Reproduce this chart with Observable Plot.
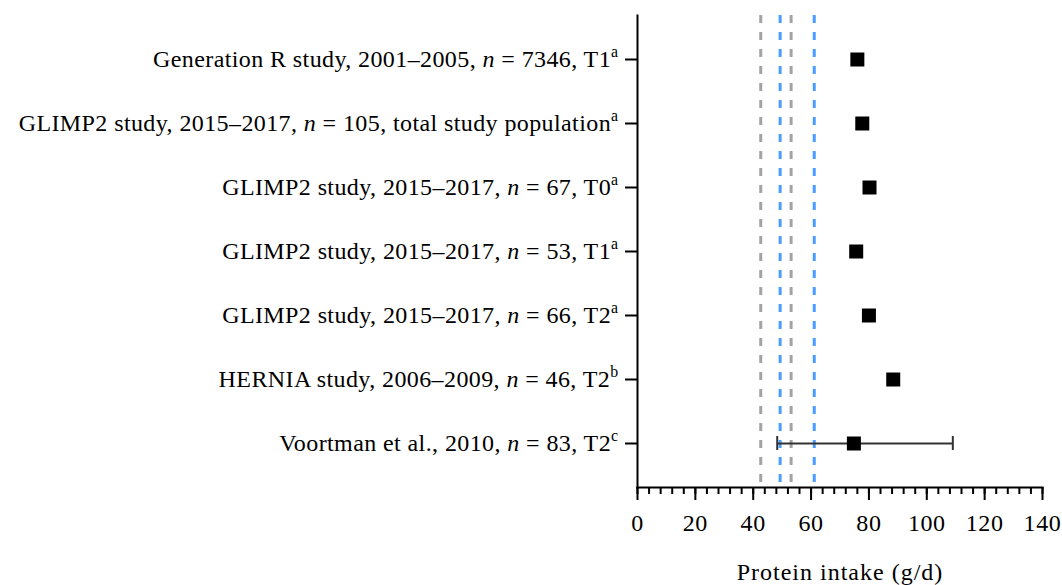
<!DOCTYPE html>
<html>
<head>
<meta charset="utf-8">
<script src="https://cdn.jsdelivr.net/npm/d3@7"></script>
<script src="https://cdn.jsdelivr.net/npm/@observablehq/plot@0.6"></script>
<style>
  html, body { margin: 0; padding: 0; background: #fff; }
  #chart svg { display: block; }
</style>
</head>
<body>
<div id="chart"></div>
<script>
// ---- data ----
const studies = [
  "Generation R study, 2001–2005",
  "GLIMP2 study, 2015–2017",
  "GLIMP2 study, 2015–2017",
  "GLIMP2 study, 2015–2017",
  "GLIMP2 study, 2015–2017",
  "HERNIA study, 2006–2009",
  "Voortman et al., 2010"
];
const nValues = [7346, 105, 67, 53, 66, 46, 83];
const groups = ["T1", "total study population", "T0", "T1", "T2", "T2", "T2"];
const notes = ["a", "a", "a", "a", "a", "b", "c"];
const intake = [76.0, 77.7, 80.2, 75.6, 80.0, 88.4, 74.8];
const lower = [null, null, null, null, null, null, 48.3];
const upper = [null, null, null, null, null, null, 109.0];
const refGray = [42.6, 53.1];
const refBlue = [49.3, 61.1];
const majorTicks = [0, 20, 40, 60, 80, 100, 120, 140];
const minorTicks = d3.range(0, 141, 4);

// ---- table ----
const labels = studies.map((s, i) => `${s}, n = ${nValues[i]}, ${groups[i]}${notes[i]}`);
const rows = labels.map((label, i) => ({
  label, study: studies[i], n: nValues[i], group: groups[i], note: notes[i],
  value: intake[i], lo: lower[i], hi: upper[i]
}));
const errRows = rows.filter(d => d.lo != null);

const FONT = "'Liberation Serif', 'Times New Roman', serif";

const chart = Plot.plot({
  width: 1062,
  height: 585,
  marginLeft: 637,
  marginRight: 20,
  marginTop: 15,
  marginBottom: 98,
  style: { fontFamily: FONT, fontSize: "24px", color: "#000", background: "#fff" },
  x: { domain: [0, 140] },
  y: { type: "band", domain: labels, paddingInner: 0, paddingOuter: 0.17 },
  marks: [
    Plot.ruleX(refGray, { x: d => d, stroke: "#a3a3a3", strokeWidth: 3, strokeDasharray: "8,9" }),
    Plot.ruleX(refBlue, { x: d => d, stroke: "#4a9dff", strokeWidth: 3, strokeDasharray: "8,9" }),
    Plot.ruleY(errRows, { y: "label", x1: "lo", x2: "hi", stroke: "#333", strokeWidth: 2 }),
    Plot.tickX(errRows, { x: "lo", y: "label", stroke: "#333", strokeWidth: 2, insetTop: 25, insetBottom: 25 }),
    Plot.tickX(errRows, { x: "hi", y: "label", stroke: "#333", strokeWidth: 2, insetTop: 25, insetBottom: 25 }),
    Plot.dot(rows, { x: "value", y: "label", symbol: "square", r: 7.9, fill: "#000", stroke: null }),
    Plot.frame({ anchor: "left", stroke: "#000", strokeWidth: 2 }),
    Plot.frame({ anchor: "bottom", stroke: "#000", strokeWidth: 2 }),
    Plot.axisX({ ticks: minorTicks, tickSize: 7, tickFormat: () => "", label: null, strokeWidth: 2 }),
    Plot.axisX({ ticks: majorTicks, tickSize: 13, tickPadding: 13, tickFormat: d => String(d),
      label: "Protein intake (g/d)", labelAnchor: "center", labelArrow: "none", labelOffset: 92,
      strokeWidth: 2, fontSize: 24 }),
    Plot.axisY({ tickSize: 12, tickPadding: 7, label: null, strokeWidth: 2, fontSize: 24 })
  ]
});

document.getElementById("chart").appendChild(chart);

const svg = d3.select(chart);
svg.selectAll('g[aria-label="x-axis tick label"] text').attr("letter-spacing", "0.6px");
svg.selectAll('g[aria-label="x-axis label"] text').attr("letter-spacing", "1px");

// Rich y tick labels: italic n and superscript notes
svg.selectAll('g[aria-label="y-axis tick label"] text').each(function () {
  const t = d3.select(this);
  const lab = t.text();
  const r = rows.find(d => d.label === lab);
  if (!r) return;
  t.text(null).attr("letter-spacing", "0.4px");
  t.append("tspan").text(`${r.study}, `);
  t.append("tspan").attr("font-style", "italic").text("n");
  t.append("tspan").text(` = ${r.n}, ${r.group}`);
  t.append("tspan").attr("font-size", "0.66em").attr("dy", "-0.62em").text(r.note);
});
</script>
</body>
</html>
